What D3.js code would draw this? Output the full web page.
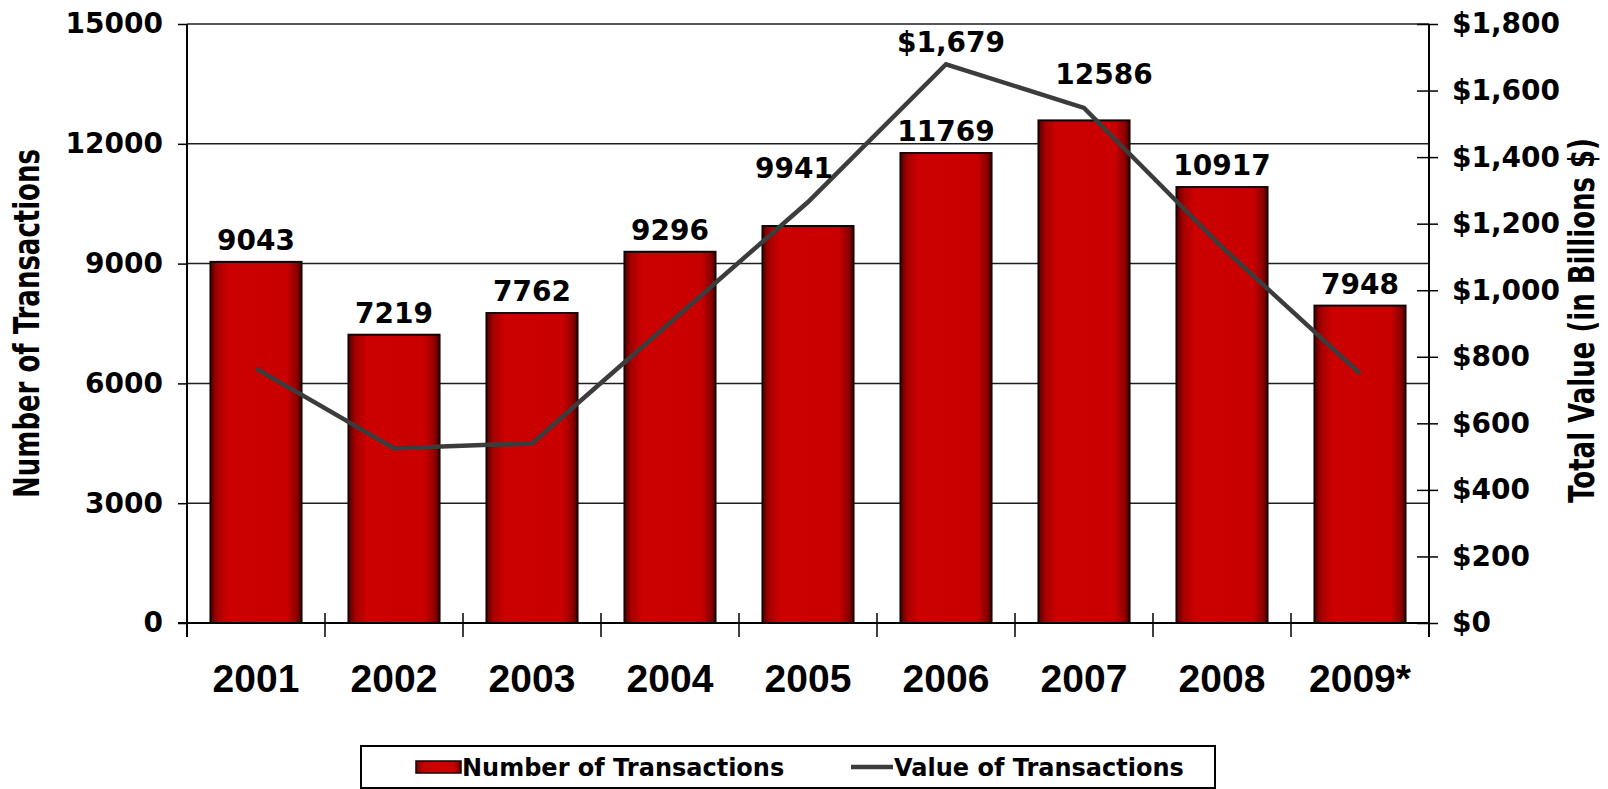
<!DOCTYPE html>
<html>
<head>
<meta charset="utf-8">
<script src="https://cdn.jsdelivr.net/npm/d3@7"></script>
<style>
  html, body { margin: 0; padding: 0; background: #fff; }
  svg { display: block; }
  .lbl { font-family: 'DejaVu Sans', sans-serif; font-weight: bold; fill: #000; }
  .xlbl { font-family: 'Liberation Sans', Arial, sans-serif; font-weight: bold; fill: #000; }
</style>
</head>
<body>
<svg id="chart" width="1608" height="789"></svg>
<script>
var years = ['2001', '2002', '2003', '2004', '2005', '2006', '2007', '2008', '2009*'];
var transactions = [9043, 7219, 7762, 9296, 9941, 11769, 12586, 10917, 7948];
var totalValue = [765, 525, 540, 903, 1265, 1679, 1548, 1130, 750];
var leftTicks = [0, 3000, 6000, 9000, 12000, 15000];
var rightTicks = [0, 200, 400, 600, 800, 1000, 1200, 1400, 1600, 1800];

var svg = d3.select('#chart');
// note: "top" is taken by window.top, so plot edges get their own names
var plotLeft = 187, plotRight = 1429, plotTop = 24, plotBottom = 623;

var x = d3.scaleBand()
    .domain(years)
    .range([plotLeft, plotRight])
    .paddingInner(0.34)
    .paddingOuter(0.17);
var yLeft = d3.scaleLinear().domain([0, 15000]).range([plotBottom, plotTop]);
var yRight = d3.scaleLinear().domain([0, 1800]).range([plotBottom, plotTop]);

// bar gradient, dark at the sides
var grad = svg.append('defs').append('linearGradient')
    .attr('id', 'barGrad')
    .attr('x1', '0%').attr('x2', '100%').attr('y1', '0%').attr('y2', '0%');
[['0%', '#580000'], ['8%', '#a80000'], ['20%', '#cc0000'], ['84%', '#c90000'], ['94%', '#920000'], ['100%', '#500000']]
    .forEach(function(s) {
        grad.append('stop').attr('offset', s[0]).attr('stop-color', s[1]);
    });

// gridlines
svg.append('g')
    .selectAll('line')
    .data(leftTicks.filter(function(d) { return d > 0; }))
    .enter().append('line')
    .attr('x1', plotLeft).attr('x2', plotRight)
    .attr('y1', function(d) { return yLeft(d); })
    .attr('y2', function(d) { return yLeft(d); })
    .style('stroke', '#1e1e1e')
    .style('stroke-width', '1.5px');

// bars
svg.append('g')
    .selectAll('rect')
    .data(years)
    .enter().append('rect')
    .attr('x', function(d) { return x(d); })
    .attr('width', x.bandwidth())
    .attr('y', function(d, i) { return yLeft(transactions[i]); })
    .attr('height', function(d, i) { return plotBottom - yLeft(transactions[i]); })
    .style('fill', 'url(#barGrad)')
    .style('stroke', '#1a0000')
    .style('stroke-width', '2px');

// left axis
var axL = svg.append('g')
    .attr('transform', 'translate(' + plotLeft + ',0)')
    .call(d3.axisLeft(yLeft).tickValues(leftTicks).tickSize(9).tickSizeOuter(0).tickPadding(15)
        .tickFormat(d3.format('d')));
axL.select('.domain').remove();
axL.selectAll('.tick line').style('stroke', '#000').style('stroke-width', '1.5px');
axL.selectAll('.tick text')
    .attr('class', 'lbl')
    .style('font-size', '28px');

// right axis
var axR = svg.append('g')
    .attr('transform', 'translate(' + plotRight + ',0)')
    .call(d3.axisRight(yRight).tickValues(rightTicks).tickSize(9).tickSizeOuter(0).tickPadding(14)
        .tickFormat(d3.format('$,')));
axR.select('.domain').remove();
axR.selectAll('.tick line').attr('x1', -12).style('stroke', '#000').style('stroke-width', '1.5px');
axR.selectAll('.tick text')
    .attr('class', 'lbl')
    .style('font-size', '28px');

// axis lines
svg.append('line')
    .attr('x1', plotLeft - 9).attr('x2', plotRight)
    .attr('y1', plotBottom).attr('y2', plotBottom)
    .style('stroke', '#000').style('stroke-width', '2px');
svg.append('line')
    .attr('x1', plotLeft).attr('x2', plotLeft)
    .attr('y1', plotTop).attr('y2', plotBottom + 14)
    .style('stroke', '#000').style('stroke-width', '2px');
svg.append('line')
    .attr('x1', plotRight).attr('x2', plotRight)
    .attr('y1', plotTop).attr('y2', plotBottom + 14)
    .style('stroke', '#000').style('stroke-width', '2px');

// category boundary ticks
svg.append('g')
    .selectAll('line')
    .data(d3.range(1, years.length))
    .enter().append('line')
    .attr('x1', function(i) { return plotLeft + i * x.step(); })
    .attr('x2', function(i) { return plotLeft + i * x.step(); })
    .attr('y1', plotBottom - 10).attr('y2', plotBottom + 14)
    .style('stroke', '#000').style('stroke-width', '1.5px');

// year labels
svg.append('g')
    .selectAll('text')
    .data(years)
    .enter().append('text')
    .attr('class', 'xlbl')
    .attr('x', function(d) { return x(d) + x.bandwidth() / 2; })
    .attr('y', 692)
    .attr('text-anchor', 'middle')
    .style('font-size', '39px')
    .text(function(d) { return d; });

// value line
var pts = years.map(function(d, i) { return [x(d) + x.bandwidth() / 2, yRight(totalValue[i])]; });
svg.append('path')
    .attr('d', d3.line()(pts))
    .style('fill', 'none')
    .style('stroke', '#3c3c3c')
    .style('stroke-width', '4.5px')
    .style('stroke-linejoin', 'miter');

// bar labels; where the line runs through one, lift it and nudge it
// toward the side where the line is lower
function labelPos(i) {
    var cx = pts[i][0];
    var barTop = yLeft(transactions[i]);
    var base = barTop - 12;
    var lineY = pts[i][1];
    if (lineY > base - 24 && lineY < barTop + 4) {
        base = lineY - 24;
        var prev = i > 0 ? totalValue[i - 1] : Infinity;
        var next = i < totalValue.length - 1 ? totalValue[i + 1] : Infinity;
        cx += prev < next ? -14 : 20;
    }
    return [cx, base];
}
svg.append('g')
    .selectAll('text')
    .data(years)
    .enter().append('text')
    .attr('class', 'lbl')
    .attr('x', function(d, i) { return labelPos(i)[0]; })
    .attr('y', function(d, i) { return labelPos(i)[1]; })
    .attr('text-anchor', 'middle')
    .style('font-size', '28px')
    .text(function(d, i) { return transactions[i]; });

// peak value label
var peak = d3.maxIndex(totalValue);
svg.append('text')
    .attr('class', 'lbl')
    .attr('x', pts[peak][0] + 5)
    .attr('y', pts[peak][1] - 12)
    .attr('text-anchor', 'middle')
    .style('font-size', '28px')
    .text(d3.format('$,')(totalValue[peak]));

// axis titles (source is stretched sideways a bit)
var midY = (plotTop + plotBottom) / 2;
svg.append('text')
    .attr('class', 'lbl')
    .attr('transform', 'translate(39,' + midY + ') scale(1.36,1) rotate(-90)')
    .attr('text-anchor', 'middle')
    .style('font-size', '26px')
    .text('Number of Transactions');
svg.append('text')
    .attr('class', 'lbl')
    .attr('transform', 'translate(1594,' + (midY - 3) + ') scale(1.36,1) rotate(-90)')
    .attr('text-anchor', 'middle')
    .style('font-size', '26px')
    .text('Total Value (in Billions $)');

// legend
var legend = svg.append('g');
legend.append('rect')
    .attr('x', 361).attr('y', 746)
    .attr('width', 854).attr('height', 42)
    .style('fill', '#fff')
    .style('stroke', '#000')
    .style('stroke-width', '2px');
legend.append('rect')
    .attr('x', 416).attr('y', 761)
    .attr('width', 45).attr('height', 12)
    .style('fill', 'url(#barGrad)')
    .style('stroke', '#1a0000')
    .style('stroke-width', '1.5px');
legend.append('text')
    .attr('class', 'lbl')
    .attr('x', 462).attr('y', 776)
    .style('font-size', '24px')
    .text('Number of Transactions');
legend.append('line')
    .attr('x1', 851).attr('x2', 893)
    .attr('y1', 767).attr('y2', 767)
    .style('stroke', '#3c3c3c')
    .style('stroke-width', '4.5px');
legend.append('text')
    .attr('class', 'lbl')
    .attr('x', 894).attr('y', 776)
    .style('font-size', '24px')
    .text('Value of Transactions');
</script>
</body>
</html>
